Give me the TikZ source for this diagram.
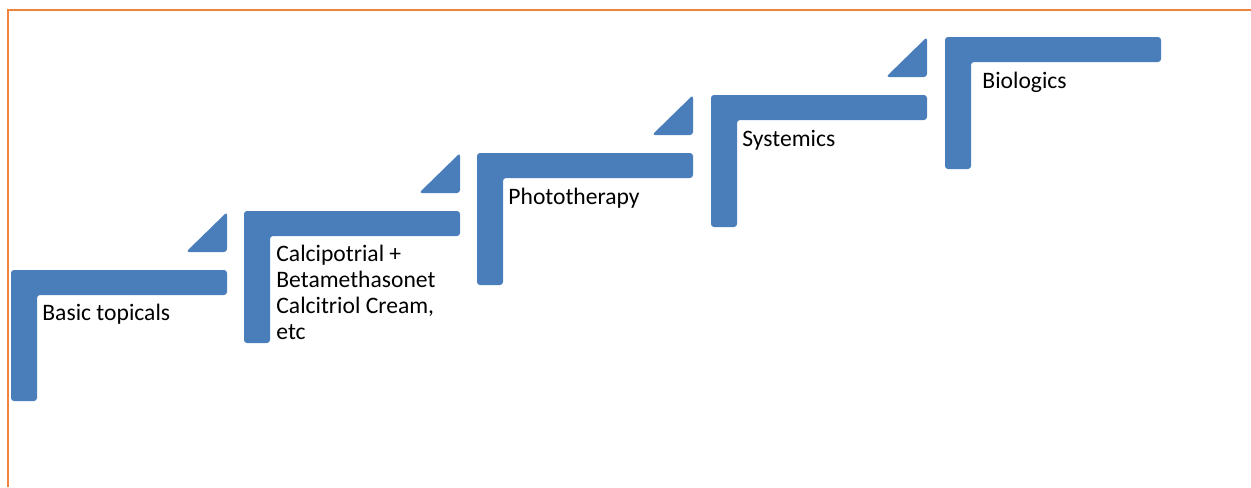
\documentclass[tikz,border=0pt]{standalone}
\usepackage{fontspec}
\setmainfont{Carlito}
\usepackage{xcolor}
\usepackage{tikz}
\usetikzlibrary{positioning}

\definecolor{stepblue}{HTML}{4A7EBB}
\definecolor{frameorange}{HTML}{F0843C}

\tikzset{
  stepbar/.style={fill=stepblue, rounded corners=1.5},
  steptext/.style={anchor=base west, inner sep=0pt, align=left,
    font=\fontsize{11.8}{12.85}\selectfont}
}

\begin{document}
\begin{tikzpicture}[x=0.5pt, y=-0.5pt]
        \useasboundingbox (0,0) rectangle (1251,487);
        % Marco
        \draw[frameorange, line width=1pt] (8.3,487) -- (8.3,9.7) -- (1251,9.7);

        % Escalones
        \fill[stepbar] (11,270) -- ++(216,0) -- ++(0,25) -- ++(-190,0) -- ++(0,106) -- ++(-26,0) -- cycle;
        \fill[stepbar] (244,211) -- ++(216,0) -- ++(0,25) -- ++(-190,0) -- ++(0,107) -- ++(-26,0) -- cycle;
        \fill[stepbar] (477,153) -- ++(216,0) -- ++(0,25) -- ++(-190,0) -- ++(0,107) -- ++(-26,0) -- cycle;
        \fill[stepbar] (711,95) -- ++(216,0) -- ++(0,25) -- ++(-190,0) -- ++(0,107) -- ++(-26,0) -- cycle;
        \fill[stepbar] (945,37) -- ++(216,0) -- ++(0,25) -- ++(-190,0) -- ++(0,107) -- ++(-26,0) -- cycle;

        % Triangulos
        \fill[stepbar] (227,212) -- ++(0,40) -- ++(-41,0) -- cycle;
        \fill[stepbar] (460,153) -- ++(0,40) -- ++(-41,0) -- cycle;
        \fill[stepbar] (693,95) -- ++(0,40) -- ++(-41,0) -- cycle;
        \fill[stepbar] (927,37) -- ++(0,40) -- ++(-41,0) -- cycle;

        % Etiquetas (base = ultima linea)
        \node[steptext] (basic) at (42,320) {Basic topicals};
        \node[steptext] (calci) at (276,339) {Calcipotrial +\\Betamethasonet\\Calcitriol Cream,\\etc};
        \node[steptext] (photo) at (508,204) {Phototherapy};
        \node[steptext] (syst) at (742,146) {Systemics};
        \node[steptext] (bio) at (982,88) {Biologics};
    \end{tikzpicture}
\end{document}
